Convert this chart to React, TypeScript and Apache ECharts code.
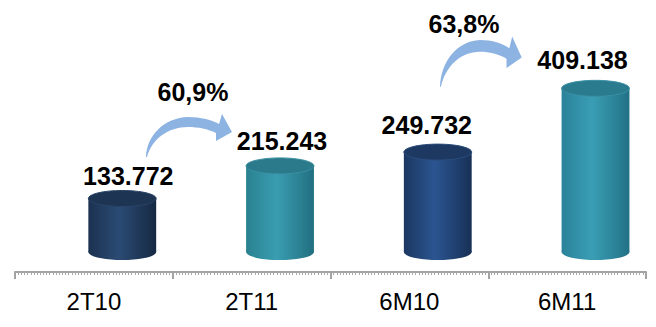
import React, { useEffect, useRef } from "react";
import * as echarts from "echarts";

// Periods and gross revenue (in R$ thousand)
const categories = ["2T10", "2T11", "6M10", "6M11"];
const revenue = [133772, 215243, 249732, 409138];
// Growth arrows: [from index, to index]
const growthPairs: [number, number][] = [
  [0, 1],
  [2, 3],
];

// Value axis range (below zero leaves room for the floor under the cylinders)
const Y_MIN = -50000;
const Y_MAX = 500000;

// Cylinder styling
const BAR_WIDTH_RATIO = 0.43;
const BAR_SHIFT_RATIO = 0.18;
const CAP_RY = 8;
const cylinderColors = [
  { edge: "#1b3150", mid: "#2b4b74", dark: "#162943", top: "#1d3453", rim: "#2a4466" },
  { edge: "#29818f", mid: "#3a9db1", dark: "#216f80", top: "#2a7a8b", rim: "#3a8fa0" },
  { edge: "#1c3760", mid: "#2b5591", dark: "#183056", top: "#1d3861", rim: "#2b4d7c" },
  { edge: "#29829a", mid: "#3a9eb4", dark: "#227186", top: "#2b7b8f", rim: "#3a90a4" },
];
// Value label placement relative to the top cap
const labelShift = [6, 2, -11, -13];
const labelLift = [14, 17, 19, 20];

// Growth arrow placement
const arrowPlacement = [
  { x: 146, y: 117, sx: 1, sy: 1, tx: 193, ty: 92 },
  { x: 440, y: 40, sx: 0.95, sy: 1.17, tx: 464, ty: 24 },
];

const ARROW_D =
  "M0 40 C1 18 18 1 42 0 C55 0 66 3 73 7 L76 -3 L86 15 L70 24 L70 16 C62 12 52 10 42 10 C22 10 6 22 1 40 Z";
echarts.graphic.registerShape("growthArrow", echarts.graphic.extendPath(ARROW_D, {}));

const FONT = '"Liberation Sans", Arial, sans-serif';

const fmtThousands = (v: number) => String(v).replace(/\B(?=(\d{3})+(?!\d))/g, ".");
const fmtGrowth = (a: number, b: number) => ((b / a - 1) * 100).toFixed(1).replace(".", ",") + "%";

export default function App() {
  const ref = useRef<HTMLDivElement>(null);

  useEffect(() => {
    if (!ref.current) return;
    const chart = echarts.init(ref.current, undefined, { renderer: "svg" });

    const graphics: any[] = [];
    growthPairs.forEach(([a, b], k) => {
      const p = arrowPlacement[k];
      graphics.push({
        type: "growthArrow",
        x: p.x,
        y: p.y,
        scaleX: p.sx,
        scaleY: p.sy,
        style: { fill: "#8db3e2" },
      });
      graphics.push({
        type: "text",
        x: p.tx,
        y: p.ty,
        style: {
          text: fmtGrowth(revenue[a], revenue[b]),
          font: `bold 25px ${FONT}`,
          fill: "#000000",
          align: "center",
          verticalAlign: "middle",
        },
      });
    });

    chart.setOption({
      animation: false,
      backgroundColor: "#ffffff",
      grid: { left: 15, right: 10, top: 52, bottom: 55 },
      xAxis: [
        {
          type: "category",
          data: categories,
          position: "bottom",
          axisLine: { show: false },
          axisTick: { show: false },
          axisLabel: {
            margin: 17,
            color: "#000000",
            fontSize: 24,
            fontFamily: FONT,
          },
        },
        {
          type: "value",
          position: "bottom",
          min: 0,
          max: categories.length,
          interval: 1,
          axisLine: { show: true, lineStyle: { color: "#a3a3a3", width: 2 } },
          axisTick: { show: true, length: 7, lineStyle: { color: "#a3a3a3", width: 2 } },
          minorTick: { show: true, splitNumber: 50, length: 3, lineStyle: { color: "#a8a8a8", width: 1 } },
          axisLabel: { show: false },
          splitLine: { show: false },
          minorSplitLine: { show: false },
        },
      ],
      yAxis: { type: "value", min: Y_MIN, max: Y_MAX, show: false },
      series: [
        {
          type: "custom",
          xAxisIndex: 0,
          yAxisIndex: 0,
          data: revenue.map((v, i) => [i, v]),
          renderItem: (params: any, api: any) => {
            const i = params.dataIndex;
            const idx = api.value(0);
            const v = api.value(1);
            const top = api.coord([idx, v]);
            const base = api.coord([idx, 0]);
            const band = api.size([1, 0])[0];
            const w = band * BAR_WIDTH_RATIO;
            const rx = w / 2;
            const cx = top[0] + band * BAR_SHIFT_RATIO;
            const c = cylinderColors[i];
            const bodyFill = new echarts.graphic.LinearGradient(0, 0, 1, 0, [
              { offset: 0, color: c.edge },
              { offset: 0.45, color: c.mid },
              { offset: 1, color: c.dark },
            ]);
            return {
              type: "group",
              children: [
                { type: "ellipse", shape: { cx, cy: base[1], rx, ry: CAP_RY }, style: { fill: bodyFill } },
                {
                  type: "rect",
                  shape: { x: cx - rx, y: top[1], width: w, height: base[1] - top[1] },
                  style: { fill: bodyFill },
                },
                {
                  type: "ellipse",
                  shape: { cx, cy: top[1], rx, ry: CAP_RY },
                  style: { fill: c.top, stroke: c.rim, lineWidth: 1 },
                },
                {
                  type: "text",
                  x: cx + labelShift[i],
                  y: top[1] - CAP_RY - labelLift[i],
                  style: {
                    text: fmtThousands(v),
                    font: `bold 25px ${FONT}`,
                    fill: "#000000",
                    align: "center",
                    verticalAlign: "middle",
                  },
                },
              ],
            };
          },
        },
      ],
      graphic: graphics,
    });

    return () => chart.dispose();
  }, []);

  return (
    <div
      ref={ref}
      style={{ position: "fixed", left: 0, top: 0, width: 656, height: 327, background: "#fff" }}
    />
  );
}
